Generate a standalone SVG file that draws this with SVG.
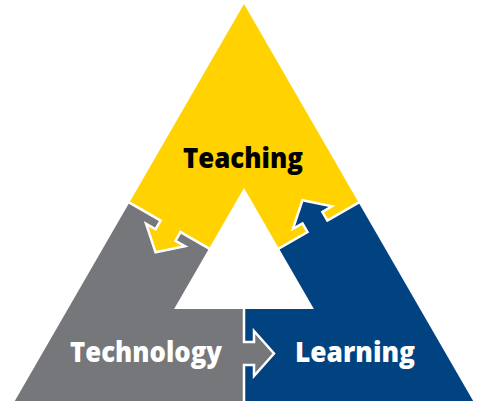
<svg xmlns="http://www.w3.org/2000/svg" width="480" height="403" viewBox="0 0 480 403">
  <style>
    .sep { stroke: #FFFFFF; stroke-width: 2.5; fill: none; stroke-linejoin: miter; stroke-linecap: butt; }
    .lbl { font-family: "Open Sans", "Liberation Sans", sans-serif; font-weight: 800; font-size: 29px; }
  </style>
  <rect width="480" height="403" fill="#FFFFFF"/>
  <g id="teaching">
    <polygon points="244,4.1 358.6,202.55 244,268.7 129.4,202.55" fill="#FFD200"/>
  </g>
  <g id="technology">
    <polygon points="129.4,202.55 14.8,401 244,401 244,268.7" fill="#76777A"/>
  </g>
  <g id="learning">
    <polygon points="358.6,202.55 473.2,401 244,401 244,268.7" fill="#014380"/>
  </g>
  <g id="connectors">
    <g id="technology-to-learning" fill="#76777A">
      <polygon points="237,342 254,342 254,331 274,353.5 254,376 254,365 237,365"/>
      <polyline class="sep" points="244,268.7 244,342 254,342 254,331 274,353.5 254,376 254,365 244,365 244,403"/>
    </g>
    <g id="teaching-to-technology" fill="#FFD200" transform="rotate(120 244 268.7)">
      <polygon points="237,342 254,342 254,331 274,353.5 254,376 254,365 237,365"/>
      <polyline class="sep" points="244,268.7 244,342 254,342 254,331 274,353.5 254,376 254,365 244,365 244,403"/>
    </g>
    <g id="learning-to-teaching" fill="#014380" transform="rotate(240 244 268.7)">
      <polygon points="237,342 254,342 254,331 274,353.5 254,376 254,365 237,365"/>
      <polyline class="sep" points="244,268.7 244,342 254,342 254,331 274,353.5 254,376 254,365 244,365 244,403"/>
    </g>
  </g>
  <g id="center">
    <polygon points="244,188 313.9,309 174.1,309" fill="#FFFFFF"/>
  </g>
  <g id="labels">
    <text class="lbl" x="183" y="168" fill="#000000" textLength="120" lengthAdjust="spacingAndGlyphs">Teaching</text>
    <text class="lbl" x="70" y="362" fill="#FFFFFF" textLength="152" lengthAdjust="spacingAndGlyphs">Technology</text>
    <text class="lbl" x="295" y="362" fill="#FFFFFF" textLength="120" lengthAdjust="spacingAndGlyphs">Learning</text>
  </g>
</svg>
